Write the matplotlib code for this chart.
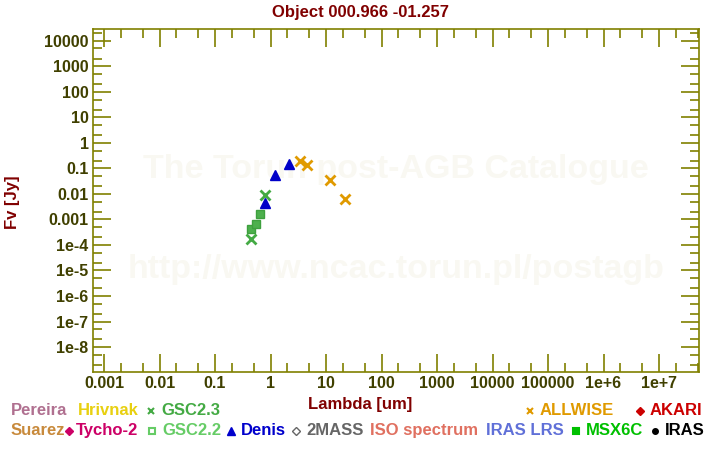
import matplotlib
matplotlib.use("Agg")
import matplotlib.pyplot as plt
from matplotlib.lines import Line2D
from matplotlib.ticker import FixedLocator, FixedFormatter, LogLocator, NullFormatter

plt.rcParams["font.family"] = ["Liberation Sans", "DejaVu Sans"]
plt.rcParams["font.weight"] = "bold"

# photometry
gsc23_wl = [0.45, 0.80]
gsc23_fv = [1.7e-4, 0.0089]
gsc22_wl = [0.45, 0.55, 0.65]
gsc22_fv = [4.2e-4, 6.5e-4, 1.7e-3]
denis_wl = [0.79, 1.22, 2.16]
denis_fv = [0.0043, 0.054, 0.145]
allwise_wl = [3.4, 4.6, 12.0, 22.0]
allwise_fv = [0.19, 0.134, 0.035, 0.0062]

xtick_vals = [1e-3, 1e-2, 1e-1, 1, 10, 100, 1e3, 1e4, 1e5, 1e6, 1e7]
xtick_labels = ["0.001", "0.01", "0.1", "1", "10", "100", "1000", "10000", "100000", "1e+6", "1e+7"]
ytick_vals = [1e4, 1e3, 100, 10, 1, 0.1, 0.01, 1e-3, 1e-4, 1e-5, 1e-6, 1e-7, 1e-8]
ytick_labels = ["10000", "1000", "100", "10", "1", "0.1", "0.01", "0.001", "1e-4", "1e-5", "1e-6", "1e-7", "1e-8"]

# legend rows: (label, colour, marker or None, marker filled)
legend_row1 = [("Pereira", "#b07090", None, True), ("Hrivnak", "#e8d010", None, True),
               ("GSC2.3", "#44aa44", "x", True), ("ALLWISE", "#e09a00", "x", True),
               ("AKARI", "#cc0000", "D", True)]
legend_row2 = [("Suarez", "#c88a3c", None, True), ("Tycho-2", "#cc0066", "D", True),
               ("GSC2.2", "#66cc66", "s", False), ("Denis", "#0000cc", "^", True),
               ("2MASS", "#666666", "D", False), ("ISO spectrum", "#e07060", None, True),
               ("IRAS LRS", "#6070d8", None, True), ("MSX6C", "#00c000", "s", True),
               ("IRAS", "#000000", "o", True)]
row1_x = [11, 78, 161, 540, 650]
row2_x = [11, 76, 162, 241, 306, 370, 486, 586, 665]

W, H = 720, 450
olive = "#808000"
tick_col = "#404000"
dark_red = "#800000"
faint = "#f9f8f2"

fig = plt.figure(figsize=(7.2, 4.5), dpi=100)
ax = fig.add_axes([92.7 / W, 1 - 372 / H, (699 - 92.7) / W, (372 - 29) / H])
ax.set_xscale("log")
ax.set_yscale("log")
ax.set_xlim(6.25e-4, 5.25e7)
ax.set_ylim(1.05e-9, 2.9e4)

# watermark
ax.text(0.5, 0.59, "The Torun post-AGB Catalogue", transform=ax.transAxes, ha="center", va="center",
        fontsize=24.5, color=faint, fontweight="bold", zorder=0)
ax.text(0.5, 0.30, "http://www.ncac.torun.pl/postagb", transform=ax.transAxes, ha="center", va="center",
        fontsize=24.5, color=faint, fontweight="bold", zorder=0)

ax.plot(gsc22_wl, gsc22_fv, "s", color="#4db04d", ms=6, mec="#3ea03e", mew=1, ls="none", zorder=3)
ax.plot(gsc23_wl, gsc23_fv, "x", color="#44aa44", ms=6.5, mew=2, ls="none", zorder=3)
ax.plot(denis_wl, denis_fv, "^", color="#0000c8", ms=7, ls="none", zorder=3)
ax.plot(allwise_wl, allwise_fv, "x", color="#e09a00", ms=6.5, mew=2, ls="none", zorder=3)

for sp in ax.spines.values():
    sp.set_color(olive)
    sp.set_linewidth(1.2)

ax.xaxis.set_major_locator(FixedLocator(xtick_vals))
ax.xaxis.set_major_formatter(FixedFormatter(xtick_labels))
ax.yaxis.set_major_locator(FixedLocator(ytick_vals))
ax.yaxis.set_major_formatter(FixedFormatter(ytick_labels))
ax.xaxis.set_minor_locator(LogLocator(base=10, subs=(2, 5), numticks=30))
ax.yaxis.set_minor_locator(LogLocator(base=10, subs=(2, 5), numticks=30))
ax.xaxis.set_minor_formatter(NullFormatter())
ax.yaxis.set_minor_formatter(NullFormatter())
ax.tick_params(which="both", direction="in", top=True, right=True, color=olive, width=1.2,
               labelcolor=tick_col, labelsize=11.5)
ax.tick_params(which="major", length=13, pad=3)
ax.tick_params(which="minor", length=6.5)
for lab in ax.get_xticklabels() + ax.get_yticklabels():
    lab.set_fontweight("bold")

fig.text(0.5, 1 - 12 / H, "Object 000.966 -01.257", ha="center", va="center",
         fontsize=12, color=dark_red, fontweight="bold")
fig.text(360 / W, 1 - 404 / H, "Lambda [um]", ha="center", va="center",
         fontsize=12, color=dark_red, fontweight="bold")
fig.text(13 / W, 1 - 202 / H, "Fv [Jy]", ha="center", va="center", rotation=90,
         fontsize=12, color=dark_red, fontweight="bold")


def legend_row(items, xs, y):
    for (label, col, mk, filled), x in zip(items, xs):
        fig.text(x / W, 1 - y / H, label, ha="left", va="center", fontsize=12,
                 color=col, fontweight="bold")
        if mk is not None:
            size = {"x": 5, "D": 4.5, "s": 5, "^": 6, "o": 4}[mk]
            mx = x - 7 if label == "Tycho-2" else x - 10
            fig.add_artist(Line2D([mx / W], [1 - y / H], marker=mk, ms=size, ls="none",
                                  color=col, mew=1.5 if mk in "xs" else 1,
                                  mfc=col if filled else "none", transform=fig.transFigure))


legend_row(legend_row1, row1_x, 410.5)
legend_row(legend_row2, row2_x, 430.5)

fig.savefig("out.png", dpi=100)
